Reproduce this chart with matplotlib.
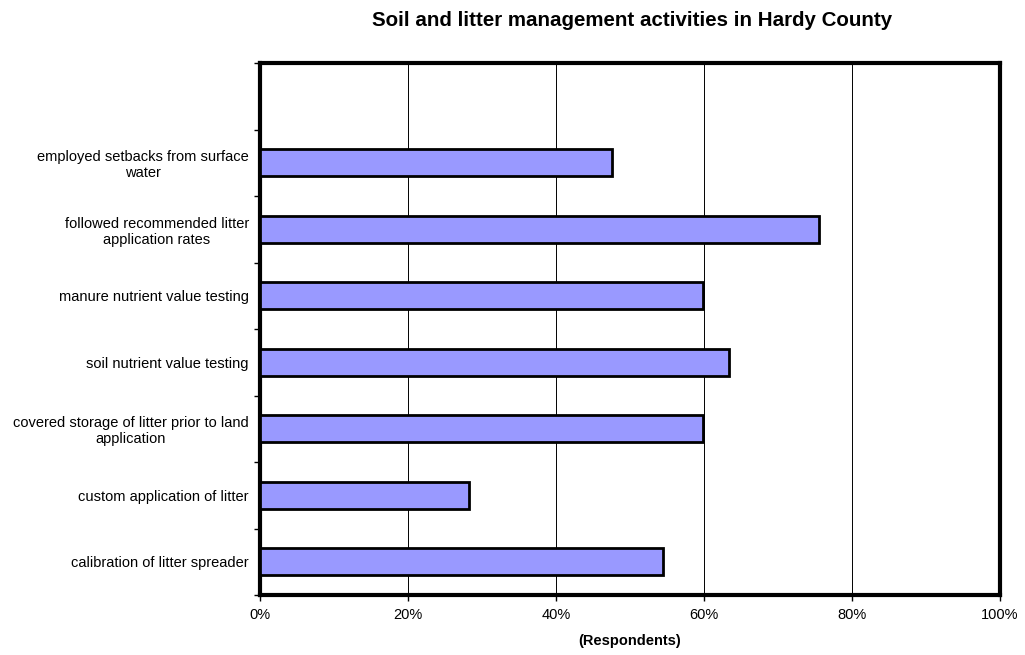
import matplotlib
matplotlib.use("Agg")
import matplotlib.pyplot as plt
import numpy as np
from matplotlib.ticker import FuncFormatter

plt.rcParams['font.family'] = ['Liberation Sans', 'DejaVu Sans']

# categories from bottom to top (top slot left empty like in the original)
labels = [
    'calibration of litter spreader',
    'custom application of litter',
    'covered storage of litter prior to land\napplication',
    'soil nutrient value testing',
    'manure nutrient value testing',
    'followed recommended litter\napplication rates',
    'employed setbacks from surface\nwater',
]
values = [54.5, 28.2, 59.8, 63.4, 59.8, 75.6, 47.5]

fig = plt.figure(figsize=(10.25, 6.55), dpi=100)
ax = fig.add_axes([0.2537, 0.0916, 0.7219, 0.8122])

y = np.arange(len(labels))
ax.barh(y, values, height=0.4, color='#9999FF', edgecolor='black', linewidth=2, zorder=3)

ax.set_xlim(0, 100)
ax.set_ylim(-0.5, len(labels) + 0.5)

ax.set_xticks(np.arange(0, 101, 20))
ax.xaxis.set_major_formatter(FuncFormatter(lambda v, p: f'{int(v)}%'))
ax.grid(axis='x', color='black', linewidth=0.7, zorder=0)

ax.set_yticks(y)
ax.set_yticklabels(labels, multialignment='center', linespacing=1.2)
ax.set_yticks(np.arange(-0.5, len(labels) + 0.6, 1), minor=True)
ax.tick_params(axis='y', which='major', length=0, pad=8, labelsize=10.5)
ax.tick_params(axis='y', which='minor', length=4, width=1, direction='out')
ax.tick_params(axis='x', length=4, width=1, direction='out', pad=5, labelsize=10.5)

for s in ax.spines.values():
    s.set_linewidth(3)
    s.set_color('black')

ax.set_xlabel('(Respondents)', fontsize=10.5, fontweight='bold', labelpad=9)
fig.text(0.617, 0.968, 'Soil and litter management activities in Hardy County',
         ha='center', va='center', fontsize=14.8, fontweight='bold')

fig.savefig('out.png', dpi=100)
